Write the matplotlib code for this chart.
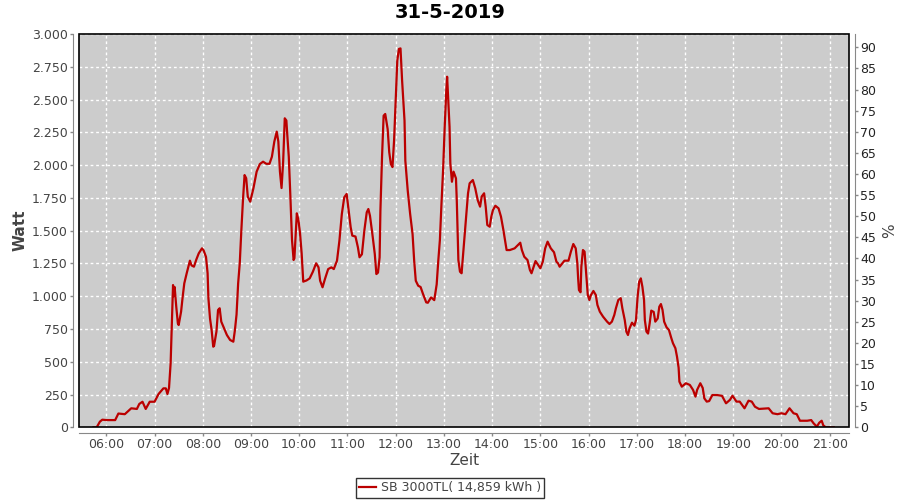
import matplotlib
matplotlib.use('Agg')

import matplotlib.pyplot as plt
import matplotlib.dates as mdates
from matplotlib.ticker import FuncFormatter, MultipleLocator
from matplotlib.patches import Rectangle
import pandas as pd

# readings of the day (time, watt)
times = ["05:44", "05:48", "05:52", "05:55", "06:00", "06:11", "06:15", "06:23", "06:31", "06:38",
         "06:41", "06:45", "06:49", "06:54", "07:00", "07:05", "07:11", "07:14", "07:16", "07:18",
         "07:20", "07:22", "07:23", "07:24", "07:25", "07:27", "07:29", "07:30", "07:33", "07:35",
         "07:37", "07:40", "07:44", "07:46", "07:49", "07:52", "07:55", "07:59", "08:01", "08:04",
         "08:06", "08:07", "08:09", "08:11", "08:13", "08:14", "08:17", "08:19", "08:21", "08:23",
         "08:30", "08:34", "08:38", "08:40", "08:42", "08:44", "08:46", "08:48", "08:50", "08:52",
         "08:54", "08:56", "08:59", "09:03", "09:07", "09:11", "09:15", "09:19", "09:23", "09:26",
         "09:29", "09:32", "09:34", "09:36", "09:37", "09:38", "09:40", "09:42", "09:44", "09:45",
         "09:47", "09:49", "09:51", "09:53", "09:54", "09:57", "09:59", "10:01", "10:03", "10:05",
         "10:09", "10:13", "10:17", "10:21", "10:24", "10:26", "10:29", "10:32", "10:36", "10:40",
         "10:43", "10:47", "10:50", "10:53", "10:56", "10:59", "11:01", "11:04", "11:06", "11:10",
         "11:13", "11:15", "11:18", "11:21", "11:24", "11:26", "11:28", "11:31", "11:34", "11:36",
         "11:38", "11:40", "11:41", "11:43", "11:45", "11:47", "11:50", "11:52", "11:54", "11:56",
         "11:58", "12:00", "12:02", "12:04", "12:06", "12:08", "12:11", "12:12", "12:15", "12:18",
         "12:21", "12:23", "12:25", "12:28", "12:31", "12:34", "12:38", "12:40", "12:44", "12:48",
         "12:51", "12:53", "12:55", "12:57", "12:59", "13:01", "13:03", "13:04", "13:05", "13:07",
         "13:08", "13:10", "13:12", "13:15", "13:16", "13:18", "13:20", "13:22", "13:24", "13:26",
         "13:28", "13:30", "13:32", "13:36", "13:39", "13:42", "13:45", "13:47", "13:50", "13:52",
         "13:54", "13:57", "13:59", "14:01", "14:04", "14:08", "14:11", "14:14", "14:16", "14:18",
         "14:22", "14:28", "14:35", "14:37", "14:40", "14:44", "14:47", "14:49", "14:54", "14:57",
         "15:00", "15:03", "15:06", "15:09", "15:13", "15:17", "15:20", "15:22", "15:24", "15:30",
         "15:35", "15:38", "15:41", "15:44", "15:46", "15:47", "15:48", "15:50", "15:51", "15:53",
         "15:55", "15:57", "15:59", "16:01", "16:03", "16:06", "16:09", "16:11", "16:14", "16:18",
         "16:23", "16:26", "16:29", "16:32", "16:34", "16:37", "16:40", "16:42", "16:45", "16:47",
         "16:49", "16:51", "16:54", "16:57", "16:59", "17:01", "17:03", "17:05", "17:07", "17:09",
         "17:10", "17:12", "17:14", "17:16", "17:18", "17:21", "17:23", "17:26", "17:28", "17:30",
         "17:32", "17:34", "17:37", "17:40", "17:43", "17:45", "17:48", "17:50", "17:52", "17:53",
         "17:56", "18:01", "18:06", "18:10", "18:13", "18:15", "18:19", "18:22", "18:24", "18:27",
         "18:30", "18:34", "18:40", "18:46", "18:51", "18:56", "18:59", "19:04", "19:08", "19:14",
         "19:19", "19:23", "19:27", "19:32", "19:44", "19:49", "19:55", "20:00", "20:05", "20:10",
         "20:15", "20:19", "20:23", "20:32", "20:37", "20:40", "20:44", "20:47", "20:50", "20:52",
         "20:55", "21:05"]
watt = [0, 0, 43, 58, 55, 55, 105, 100, 145, 140,
        178, 195, 140, 195, 195, 254, 297, 297, 254, 300,
        488, 882, 1085, 1000, 1070, 920, 793, 780, 882, 996,
        1098, 1175, 1271, 1235, 1225, 1280, 1327, 1365, 1350, 1300,
        1175, 985, 830, 742, 615, 620, 730, 895, 908, 806,
        704, 666, 653, 742, 860, 1098, 1251, 1505, 1734, 1924,
        1900, 1759, 1721, 1823, 1950, 2008, 2026, 2010, 2010, 2064,
        2179, 2255, 2180, 1950, 1886, 1825, 2026, 2357, 2340, 2243,
        2064, 1759, 1429, 1276, 1290, 1632, 1581, 1480, 1327, 1111,
        1120, 1136, 1187, 1251, 1220, 1118, 1068, 1131, 1207, 1220,
        1207, 1271, 1424, 1627, 1754, 1780, 1678, 1526, 1462, 1455,
        1373, 1297, 1320, 1500, 1640, 1665, 1614, 1474, 1322, 1169,
        1180, 1297, 1652, 2060, 2377, 2390, 2275, 2098, 2008, 1985,
        2187, 2491, 2797, 2886, 2890, 2644, 2339, 2034, 1805, 1627,
        1474, 1271, 1118, 1080, 1070, 1017, 953, 950, 991, 970,
        1090, 1270, 1429, 1709, 1963, 2293, 2573, 2674, 2545, 2293,
        2014, 1873, 1950, 1899, 1734, 1276, 1187, 1175, 1327, 1480,
        1632, 1785, 1861, 1886, 1823, 1734, 1683, 1760, 1785, 1683,
        1543, 1530, 1607, 1657, 1690, 1670, 1607, 1505, 1429, 1352,
        1352, 1365, 1408, 1352, 1301, 1276, 1200, 1175, 1268, 1240,
        1213, 1263, 1365, 1416, 1365, 1335, 1263, 1251, 1225, 1271,
        1271, 1340, 1398, 1365, 1251, 1136, 1047, 1030, 1225, 1352,
        1340, 1175, 1009, 971, 1009, 1040, 1009, 933, 882, 844,
        806, 788, 806, 857, 908, 971, 985, 908, 818, 730,
        704, 755, 798, 775, 818, 996, 1111, 1136, 1070, 971,
        818, 730, 715, 793, 890, 880, 806, 830, 920, 940,
        895, 806, 763, 742, 679, 641, 603, 539, 455, 348,
        310, 336, 323, 285, 234, 285, 336, 300, 221, 196,
        200, 246, 246, 240, 183, 210, 241, 196, 196, 145,
        203, 196, 157, 140, 145, 107, 100, 107, 100, 145,
        107, 100, 50, 50, 55, 30, 5, 35, 50, 15,
        0, 0]

day = "2019-05-31"
x = pd.to_datetime([day + " " + t for t in times])

grey = '#444444'
axis_grey = '#888888'

fig = plt.figure(figsize=(9, 5), dpi=100)
ax = fig.add_axes([79 / 900, 1 - 427.3 / 500, 770 / 900, 393.3 / 500])
ax.set_facecolor('#cccccc')

ax.plot(x, watt, color='#bb0000', lw=1.6, label='SB 3000TL( 14,859 kWh )', zorder=3)

ax.set_xlim(pd.Timestamp(day + " 05:26"), pd.Timestamp(day + " 21:24"))
ax.set_ylim(0, 3000)
ax.xaxis.set_major_locator(mdates.HourLocator())
ax.xaxis.set_major_formatter(mdates.DateFormatter('%H:%M'))
ax.yaxis.set_major_locator(MultipleLocator(250))
ax.yaxis.set_major_formatter(FuncFormatter(lambda v, p: f"{int(v):,}".replace(",", ".")))
ax.grid(True, color='white', linestyle=(0, (2, 2)), linewidth=1)
ax.set_axisbelow(True)

# right axis in percent
ax2 = ax.twinx()
ax2.set_ylim(0, 93.15)
ax2.yaxis.set_major_locator(MultipleLocator(5))
ax2.set_ylabel('%', color=grey, fontsize=11, labelpad=4)

for a in (ax, ax2):
    for s in a.spines.values():
        s.set_visible(False)
    a.tick_params(colors=axis_grey, labelcolor=grey, labelsize=9, length=2, width=1, pad=2)

ax.spines['left'].set_visible(True)
ax.spines['left'].set_position(('outward', 4))
ax.spines['left'].set_color(axis_grey)
ax.spines['bottom'].set_visible(True)
ax.spines['bottom'].set_position(('outward', 4))
ax.spines['bottom'].set_color(axis_grey)
ax2.spines['right'].set_visible(True)
ax2.spines['right'].set_position(('outward', 4))
ax2.spines['right'].set_color(axis_grey)
ax2.tick_params(labelcolor='#222222')

# plot border
ax.add_patch(Rectangle((0, 0), 1, 1, transform=ax.transAxes, fill=False,
                       edgecolor='black', lw=1.2, clip_on=False, zorder=5))

ax.set_ylabel('Watt', color=grey, fontsize=11, fontweight='bold', labelpad=3)
ax.set_xlabel('Zeit', color=grey, fontsize=11, labelpad=1)
fig.suptitle('31-5-2019', fontsize=14, fontweight='bold', y=0.995, va='top')

leg = fig.legend(*ax.get_legend_handles_labels(), loc='upper center',
                 bbox_to_anchor=(0.5, 0.045), frameon=True,
                 fancybox=False, fontsize=9, handlelength=1.3, handletextpad=0.4,
                 borderpad=0.3, borderaxespad=0)
leg.get_frame().set_edgecolor('black')
leg.get_frame().set_linewidth(1)
for t in leg.get_texts():
    t.set_color(grey)

plt.savefig('out.png', dpi=100)
